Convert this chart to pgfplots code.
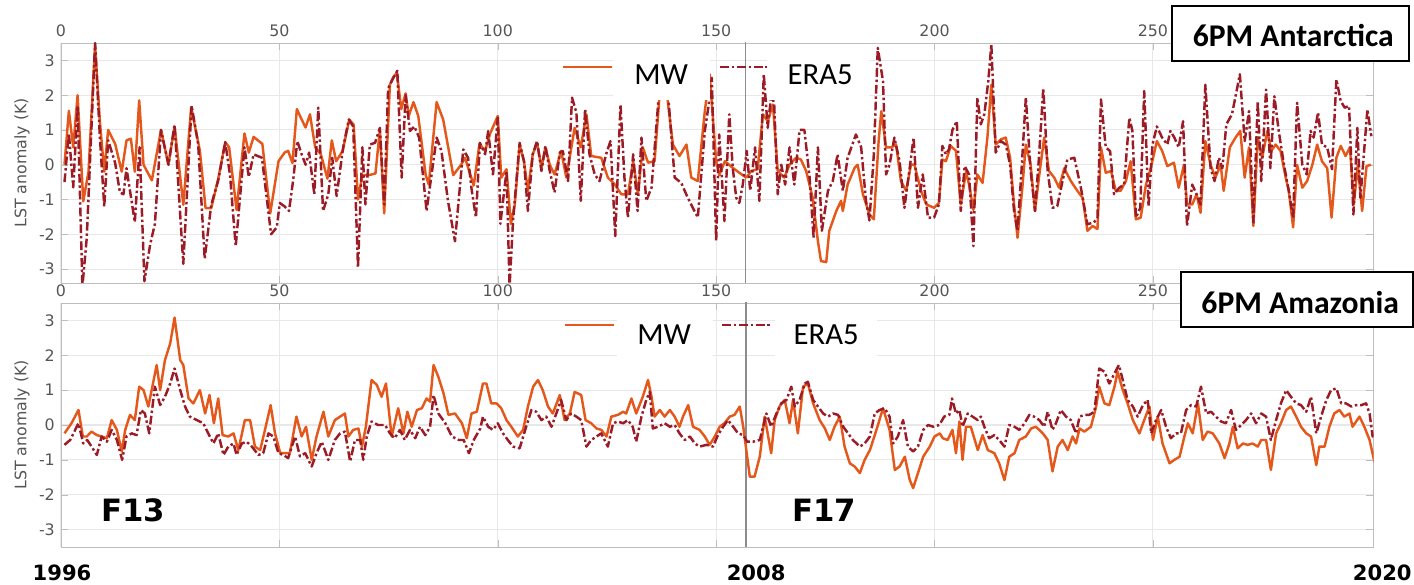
\documentclass[border=0pt]{standalone}
\usepackage{fontspec}
\setmainfont{DejaVu Sans}
\newfontfamily\carlito{Carlito}
\usepackage{pgfplots}
\pgfplotsset{compat=1.18}

\definecolor{mwc}{RGB}{228,88,28}
\definecolor{erac}{RGB}{155,27,38}
\definecolor{gridc}{RGB}{232,232,232}
\definecolor{framec}{RGB}{190,190,190}
\definecolor{tickc}{RGB}{85,85,85}

\tikzset{
  mw/.style={mwc, line width=1.4pt, line join=round},
  era/.style={erac, line width=1.4pt, line join=round,
    dash pattern=on 5pt off 1.6pt on 1.4pt off 1.6pt},
}
\pgfplotsset{
  panel/.style={
    scale only axis, width=26.25cm,
    xmin=0, xmax=300.5,
    xtick={0,50,...,250}, ytick={-3,-2,...,3},
    xticklabel pos=right,
    tick align=inside, major tick length=4pt,
    tick style={framec},
    axis line style={framec},
    grid=major, major grid style={gridc, line width=0.6pt},
    tick label style={font=\fontsize{9}{10}\selectfont, text=tickc},
    /pgf/number format/assume math mode=true,
    ylabel={LST anomaly (K)},
    ylabel style={font=\fontsize{9}{10}\selectfont, text=tickc,
      at={(axis description cs:-0.0297,0.5)}, anchor=center},
  },
}

\begin{document}
\begin{tikzpicture}
\useasboundingbox (0,0) rectangle (28.28cm,-11.7cm);

% ---- 6PM Antarctica ----
\begin{axis}[panel, at={(1.22cm,-0.86cm)}, anchor=north west,
    height=4.8cm, ymin=-3.4, ymax=3.5]
\addplot[black!45, line width=1pt, forget plot] coordinates {(156.7,-4) (156.7,4)};
\addplot[mw] coordinates {
(0.8,0.0) (1.8,1.55) (2.8,0.5) (3.8,2.0) (5.1,-1.05) (6.3,-0.2) (7.8,3.45) (8.9,1.25)
(9.9,-0.2) (10.8,1.0) (12.4,0.6) (13.9,-0.2) (15,0.7) (16,0.75) (16.9,-0.2) (17.9,1.85)
(18.9,0.0) (20.8,-0.45) (22.9,1.0) (24.6,0.0) (26,1.1) (28,-1.15) (29.8,1.65) (31.8,0.4)
(33.1,-1.25) (34.4,-1.25) (36,-0.4) (37.6,0.65) (38.5,0.5) (40.2,-1.3) (42,0.9) (43,0.35)
(44.1,0.8) (46.1,0.6) (47.9,-1.4) (49.8,0.1) (51.2,0.35) (52,0.4) (53,0.05) (54,1.6)
(55.1,1.3) (56,1.07) (57,1.45) (58.2,0.5) (59.5,0.3) (61,-0.4) (62,0.7) (63,0.1)
(64.5,0.4) (66,1.3) (67,1.15) (68,-1.0) (69,-0.3) (70.5,-0.3) (72,-0.25) (73,1.0)
(74,-1.4) (75.3,2.3) (76,2.5) (76.9,2.65) (77.9,1.6) (78.9,2.05) (79.6,1.4) (80.7,1.8)
(81.8,1.4) (83.5,-0.3) (84.2,-0.57) (86,1.8) (87.5,1.3) (89.8,-0.3) (91.6,0.0) (92.5,0.2)
(94.5,-0.6) (95.8,0.6) (97.1,0.4) (98.2,0.88) (100,1.4) (100.8,-0.37) (102,-0.13) (103,-1.7)
(103.9,-1.14) (105,0.58) (106,0.1) (106.9,-0.75) (108,0.3) (109,0.63) (110,-0.09) (110.9,0.5)
(111.9,0) (113,-0.28) (114.5,0.4) (115.7,-0.37) (117.6,1.06) (119,0.5) (120.3,1.45) (121.4,0.25)
(123.7,0.2) (125.2,-0.37) (126.8,-0.57) (128.3,-0.85) (129.8,-0.85) (131,0.1) (132.1,-0.85) (133.2,0.5)
(134.4,0.06) (135.9,0.1) (137,1.93) (138,3.0) (139,1.73) (140.1,0.58) (141.6,0.25) (143.2,0.58)
(144.3,-0.37) (145.8,-0.47) (147.4,1.54) (148.5,2.6) (150,0.1) (150.7,-0.3) (152,0.1) (153.8,-0.09)
(155.3,-0.23) (156.9,-0.37) (158,-0.18) (159.5,-0.13) (160.7,1.45) (161.8,1.25) (163,1.73) (164.1,-0.18)
(165.6,-0.37) (166.8,0.0) (168.3,0.2) (169.4,0.15) (170.6,-0.18) (172.1,-0.95) (173.3,-2.2) (174,-2.77)
(175.2,-2.8) (175.9,-1.9) (177.5,-1.33) (178.6,-1.04) (179,-1.33) (180.1,-0.57) (181.7,-0.09) (182.4,0.0)
(183.6,-0.85) (185.1,-1.43) (186.1,-1.57) (187.2,0.68) (187.8,1.54) (188.9,0.5) (190.1,0.5) (191.2,0.58)
(192.3,-0.47) (193.5,-0.75) (194.6,0.0) (195.4,0.0) (196.9,-0.75) (198.1,-1.14) (199.9,-1.24) (201,-1.1)
(201.8,0.15) (202.6,0.1) (203.7,0.54) (204.9,0.4) (206,-1.14) (207.2,-0.2) (207.9,-0.57) (208.9,-1.3)
(209.8,-0.28) (211,-0.52) (212.1,0.78) (213,2.3) (214,0.58) (215.2,0.73) (216.3,0.78) (217.3,0.2)
(218.2,-1.14) (219,-2.1) (220.1,-0.66) (220.9,0.58) (222,0.0) (223,-1.33) (223.9,-0.37) (225.1,0.78)
(226.2,-0.18) (227.4,-0.37) (228.5,-0.66) (229.7,-0.1) (231.2,-0.47) (232.7,-0.75) (233.9,-0.95) (235,-1.9)
(236.2,-1.76) (237.3,-1.85) (238.1,0.5) (239.2,-0.23) (240.4,-0.18) (241.5,-0.75) (242.6,-0.75) (243.8,-0.47)
(244.9,0.1) (246.1,-1.57) (247.2,-1.52) (248.4,-0.57) (249.5,-0.1) (250.9,0.68) (252.1,0.4) (253.3,-0.04)
(254.8,0.06) (255.9,-0.66) (257.1,0.0) (257.8,-1.14) (259,-1.14) (260,-0.85) (260.9,-1.38) (262,0.68)
(263.2,0.0) (264.3,-0.37) (265.5,0.0) (266.2,-0.75) (267.6,0.5) (268.9,0.78) (270,0.97) (271,-0.37)
(272,0.5) (273,-1.76) (274,0.78) (275,0.2) (276.2,0.97) (277.1,0.4) (278.1,0.58) (279.2,0.4)
(280.4,-0.37) (281.1,-0.75) (282.1,-1.8) (283,0.0) (284.2,-0.66) (285.3,-0.47) (286.5,0.0) (287.6,0.58)
(288.7,0.1) (289.9,-0.1) (290.9,-1.52) (292,0.2) (293,0.54) (294.1,0.25) (295.1,0.5) (296,-1.14)
(296.9,0.0) (297.9,-1.33) (298.9,-0.04) (299.9,0.0)
};
\addplot[era] coordinates {
(0.8,-0.5) (1.8,0.9) (2.8,-0.65) (3.8,1.7) (4.9,-3.5) (5.9,-2.1) (7.8,3.5) (8.9,0.8)
(9.9,-1.2) (10.8,0.7) (12.4,0.05) (13.5,-0.8) (14.3,-0.85) (15,-0.1) (16.9,-1.65) (18,0.5)
(19.1,-3.35) (20.4,-2.3) (21.5,-1.7) (22.9,1.0) (24.6,0.0) (26,1.15) (28,-2.85) (29.9,1.7)
(31.4,0.6) (32.9,-2.7) (34.4,-1.15) (36,-0.45) (37.6,0.65) (38.7,-0.3) (40,-2.35) (42,0.5)
(43,-0.35) (44.1,0.3) (46,0.2) (48.1,-2.0) (49.4,-1.8) (50.1,-1.1) (51.2,-1.2) (52.2,-1.33)
(53.2,-0.4) (54.1,0.68) (55.1,0.3) (56,0.0) (56.8,0.35) (58,-0.85) (58.9,1.64) (60,-1.33)
(61.2,-0.85) (62.1,0.2) (63.1,-0.9) (64.6,0.5) (65.9,1.3) (66.9,1.1) (68,-2.96) (69,0.5)
(69.7,-1.14) (70.7,0.58) (71.9,0.63) (73,1.06) (74,-1.14) (74.9,2.2) (76.1,2.5) (77,2.7)
(78,-0.37) (78.9,2.0) (79.9,0.97) (80.9,1.1) (82,0.78) (83.7,-1.33) (86,0.78) (87.1,0.4)
(88.6,-1.04) (90.2,-2.2) (92.1,0.44) (93.2,0.2) (94,-0.7) (95,-1.52) (95.9,0.63) (97.1,0.3)
(97.8,0.97) (98.9,-0.28) (100,1.35) (100.6,-1.7) (102,-0.18) (102.7,-3.5) (103.5,-1.6) (105,0.63)
(106,0.1) (106.9,-1.33) (108,0.3) (109,0.68) (110,-0.18) (110.9,0.54) (111.9,-0.18) (113,-0.8)
(114.2,0.35) (114.9,0.39) (116.1,-0.47) (117,1.93) (118,1.5) (119,-1.04) (120,1.6) (121,0.3)
(122.2,-0.28) (123.3,-0.47) (124.8,0.3) (125.8,0.68) (126.9,-2.05) (128.1,1.73) (129,-0.37) (129.8,-1.52)
(131,0.3) (132,-1.33) (132.9,0.78) (134,-1.04) (135.2,-0.66) (136.7,1.73) (137.5,3.2) (139,2.0)
(140.5,-0.37) (142,-0.52) (143.5,-0.95) (145.8,-1.52) (147.4,0.97) (148.3,1.73) (149,2.5) (150,-2.2)
(150.7,0.87) (151.9,-1.62) (153,1.45) (153.8,-0.1) (154.6,-0.95) (155.3,-1.1) (156.1,-0.57) (157,0.4)
(157.8,-0.75) (158.9,0.5) (159.9,-1.04) (160.9,2.6) (161.8,1.06) (162.7,2.1) (163.3,1.7) (164.1,-0.85)
(164.9,0) (165.8,-0.57) (166.8,0.5) (167.9,-0.57) (169.1,1.0) (170.2,1.0) (171.4,-0.37) (172.3,-2.1)
(173.3,0.5) (174.2,-1.9) (175.6,-0.75) (176.7,-0.47) (177.8,0.3) (179,-0.75) (180.1,0.2) (182,0.87)
(183.2,0.5) (184.3,-1.04) (185.1,-1.6) (186.1,0.3) (187,3.36) (188.2,2.4) (188.9,-0.28) (189.7,0)
(190.8,0.78) (192,0.1) (193.1,-1.24) (194.3,-0.1) (195.2,0.78) (196.2,-1.24) (197.3,-0.28) (198.5,-1.52)
(199.9,-1.52) (201,-1.14) (201.8,0.54) (202.6,0.3) (203.3,0.44) (204.1,1.0) (205.1,1.25) (206,-1.33)
(206.9,-0.04) (207.9,-0.28) (208.9,-2.34) (209.8,1.93) (210.6,1.16) (211.4,1.45) (212.3,2.4) (213,3.46)
(214,0.35) (215.2,0.68) (216.3,0.58) (217.3,0.0) (218.2,-1.33) (219,-1.9) (219.9,-0.18) (220.9,1.93)
(222,-0.18) (223,-1.33) (223.9,0.2) (224.9,2.2) (225.9,-0.18) (227,-1.24) (228.1,-1.19) (229.3,-0.47)
(230.4,0.15) (232,0.2) (233.5,-0.66) (235,-1.71) (236.5,-1.66) (237.3,-1.52) (238.1,1.88) (239.2,0.5)
(240.2,0.39) (241.1,-0.85) (242.3,-0.66) (243.4,-0.57) (244.6,1.35) (245.3,0.97) (246.1,-1.52) (247.1,-1.24)
(248,2.12) (249,-1.19) (249.9,0.58) (250.9,1.1) (252.1,0.78) (253.3,0.58) (254,0.97) (254.9,0.78)
(255.9,0.5) (256.9,1.25) (257.8,-1.76) (259,-0.57) (260,-0.85) (260.9,-1.14) (262,2.3) (263.2,-0.1)
(264.1,-0.47) (265.1,0.2) (265.9,-0.1) (266.8,1.16) (268.1,1.45) (269.9,2.6) (271,0.68) (272,1.54)
(273,-1.66) (274,1.83) (274.8,-0.47) (275.9,2.16) (276.9,-0.1) (277.8,1.97) (278.8,0.97) (280,0.0)
(281.1,-0.75) (282.1,-1.52) (283,1.78) (284.2,0.0) (285.2,-0.28) (286.1,0.97) (286.8,0.78) (287.8,1.5)
(288.7,0.58) (289.9,0.5) (291,-0.13) (292,2.45) (293,1.83) (293.9,1.64) (294.9,1.69) (295.9,-1.43)
(296.8,1.06) (297.5,-0.95) (298.1,0.0) (299.1,1.59) (300,0.82)
};
\end{axis}

% ---- 6PM Amazonia ----
\begin{axis}[panel, at={(1.22cm,-6.06cm)}, anchor=north west,
    height=4.88cm, ymin=-3.5, ymax=3.5]
\addplot[black!45, line width=1pt, forget plot] coordinates {(156.9,-4) (156.9,4)};
\addplot[mw] coordinates {
(0.8,-0.24) (2.4,0.05) (4,0.43) (5,-0.33) (5.9,-0.33) (7,-0.19) (8.2,-0.29) (9.3,-0.33)
(10.5,-0.38) (11.6,0.14) (12.8,-0.14) (13.9,-0.76) (14.7,-0.14) (15.8,0.29) (16.9,0.14) (17.9,1.1)
(18.9,1.0) (20,0.53) (21.9,1.72) (22.7,1.0) (23.8,1.86) (25,2.34) (26,3.08) (27.3,1.86)
(28,1.72) (29.2,0.76) (30.3,0.62) (31.8,1.0) (33,0.33) (34,0.86) (35,0.05) (36,0.76)
(37,-0.29) (38.3,-0.33) (39.5,-0.24) (40.6,-0.72) (42.1,0.14) (43.3,0.14) (44.4,-0.62) (45.6,-0.72)
(46.7,-0.14) (48,0.57) (49,-0.24) (50.2,-0.81) (51.3,-0.81) (52.4,-0.81) (53.9,0.24) (55.1,-0.33)
(56.1,-0.05) (57.4,-1.0) (58.5,-0.33) (60.1,0.38) (61.2,-0.33) (62.7,0.14) (63.9,0.24) (65,0.33)
(65.8,-0.33) (66.9,-0.14) (68.1,-0.1) (68.9,-0.62) (69.8,-0.05) (71.1,1.29) (72.3,1.15) (73.4,0.81)
(74.4,1.19) (75.7,-0.33) (77.2,0.48) (78.4,-0.24) (79.3,0.38) (80.3,-0.05) (81.5,0.43) (82.6,0.48)
(83.7,0.76) (84.5,0.67) (85.3,1.72) (86.4,1.38) (87.6,0.9) (88.7,0.29) (90.2,0.33) (91.8,0.05)
(92.9,-0.38) (94,0.33) (95.2,0.38) (96.6,1.19) (97.4,1.19) (98.5,0.62) (99.7,0.62) (100.8,0.48)
(102,0.14) (103.1,-0.05) (104.6,-0.33) (105.8,-0.14) (106.9,0.53) (108.1,1.1) (109.2,1.29) (110.3,1.0)
(111.5,0.53) (112.6,0.33) (114.2,0.86) (115.3,0.14) (116.5,0.33) (117.6,0.95) (119.1,0.86) (120.1,0.14)
(121.4,0.05) (122.6,-0.1) (123.7,-0.14) (124.9,-0.33) (126,0.24) (127.5,0.29) (128.7,0.38) (129.4,0.33)
(130.6,0.76) (131.7,0.33) (133.2,0.81) (134.4,1.29) (135.2,0.81) (135.9,0.24) (137.1,0.43) (138.2,0.24)
(139.4,0.43) (140.5,0.24) (141.6,-0.05) (142.4,0.24) (143.6,0.57) (144.7,-0.05) (146.2,-0.14) (147.4,-0.33)
(148.5,-0.57) (149.7,-0.33) (150.8,-0.05) (151.9,0.05) (153.1,0.24) (154.2,0.29) (155.4,0.53) (156.2,-0.05)
(157.7,-1.48) (158.8,-1.48) (160,-0.9) (161.1,0.24) (162.6,-0.81) (163.4,0.14) (164.5,0.53) (165.7,0.72)
(166.8,0.05) (167.6,0.72) (168.7,-0.24) (169.9,1.1) (171,1.19) (172.2,0.62) (173.7,0.14) (174.9,-0.1)
(176,-0.43) (177.1,-0.05) (178.3,0.24) (179.4,-0.62) (180.6,-1.1) (181.7,-1.19) (182.9,-1.38) (184,-1.0)
(185.2,-0.72) (186.7,-0.14) (188.2,0.48) (189.7,-0.14) (190.9,-1.29) (192,-1.19) (193.2,-0.91) (194.3,-1.57)
(195.1,-1.81) (196.2,-1.38) (197.4,-0.91) (198.9,-0.62) (200,-0.33) (201.2,-0.24) (201.9,-0.38) (203,-0.43)
(204.1,-0.14) (204.9,-0.81) (205.7,0.1) (206.4,-1.0) (207.2,-0.05) (208.3,-0.05) (209.9,-0.72) (211,-0.29)
(212.2,-0.72) (213.7,-0.81) (214.8,-1.1) (216,-1.58) (217.1,-0.91) (218.3,-0.81) (219.4,-0.43) (220.9,-0.33)
(222.1,-0.1) (223.2,-0.05) (224.8,-0.24) (225.9,-0.43) (227,-1.33) (228.2,-0.62) (229.3,-0.43) (230.5,-0.72)
(231.6,-0.33) (232.4,-0.53) (233.2,-0.1) (234.3,-0.19) (235.8,-0.05) (237,0.53) (237.7,1.1) (238.9,0.62)
(240,0.57) (241.2,1.1) (241.9,1.53) (243.1,1.0) (244.2,0.62) (245.4,0.14) (246.9,-0.24) (248,0.14)
(249.2,0.53) (250,-0.43) (251.1,0.24) (252.2,-0.53) (253.8,-1.1) (254.9,-1.0) (256.1,-0.91) (257.2,-0.33)
(258,0.05) (259.1,-0.24) (260.3,0.62) (261.4,-0.43) (262.5,-0.19) (263.7,-0.24) (265.2,-0.53) (266.4,-0.95)
(267.5,-0.53) (268.3,-0.05) (269.4,-0.67) (270.6,-0.53) (271.7,-0.57) (272.8,-0.53) (274,-0.62) (274.8,-0.43)
(275.9,-0.43) (277,-1.29) (278.2,-0.24) (279.3,0.05) (280.5,0.43) (281.6,0.53) (282.8,0.24) (283.9,-0.05)
(285.1,-0.24) (286.2,-0.33) (287.4,-1.15) (288.1,-0.62) (289.3,-0.62) (290.4,-0.05) (291.5,0.33) (292.7,0.43)
(293.8,0.24) (295,0.33) (295.7,-0.05) (297.3,0.24) (298.4,-0.05) (299.6,-0.43) (300.7,-1.05) (301.5,-1.0)
};
\addplot[era] coordinates {
(0.8,-0.57) (2.1,-0.43) (4,0.05) (5.1,-0.53) (6,-0.43) (7,-0.62) (8.2,-0.86) (9.3,-0.33)
(10.5,-0.48) (11.6,-0.14) (12.8,-0.43) (14,-1.0) (15,-0.33) (16.2,-0.24) (17.3,-0.29) (18.3,0.43)
(19.2,0.33) (20.2,-0.24) (21.5,1.1) (22.7,0.57) (23.8,0.81) (25,1.19) (26,1.62) (27.3,1.0)
(28.4,0.53) (29.5,0.24) (31.1,0.14) (32.6,0.05) (33.7,-0.24) (34.9,-0.53) (36,-0.24) (37.2,-0.86)
(38.3,-0.62) (39.5,-0.53) (40.2,-0.86) (41.4,-0.53) (42.5,-0.48) (43.7,-0.62) (45.2,-0.86) (46.3,-0.81)
(47.5,-0.24) (48.6,-0.33) (49.8,-0.81) (50.9,-0.86) (52,-0.95) (53.6,-0.33) (54.7,-0.9) (55.9,-0.81)
(57.4,-1.19) (58.5,-0.81) (59.7,-0.48) (61.2,-1.0) (62.7,-0.43) (63.9,-0.24) (65,-0.19) (66.2,-1.05)
(67.3,-0.43) (68.5,-0.43) (69.2,-1.0) (70,-0.33) (71.1,0.1) (72.6,0) (74.2,0) (75.3,-0.24)
(76.4,-0.38) (77.6,-0.14) (78.7,-0.43) (79.9,-0.14) (81.1,-0.38) (82.2,-0.05) (83.4,-0.29) (84.5,-0.05)
(85.3,0.86) (86.4,0.33) (88,0.05) (89.5,-0.33) (91.1,-0.43) (92.2,-0.43) (93.4,-0.81) (94.5,-0.43)
(96,-0.1) (96.6,0.24) (97.8,-0.05) (98.9,-0.14) (100,0.05) (101.2,-0.24) (102.3,-0.43) (103.5,-0.62)
(105,-0.67) (106.5,-0.05) (107.7,0.43) (108.8,0.38) (110,0.14) (111.1,0.24) (112.3,-0.05) (113.4,0.33)
(114.5,0.72) (115.7,0.14) (116.8,0.33) (118,0.24) (119.1,0.14) (120.3,-0.62) (121.4,-0.43) (122.6,-0.33)
(123.7,-0.24) (125.2,-0.62) (126.4,0.05) (127.5,0.1) (128.7,0.05) (129.8,0.14) (130.9,-0.05) (131.7,-0.48)
(132.9,0.24) (134,0.72) (134.8,0.95) (135.5,-0.1) (136.7,-0.05) (138.2,0.05) (139.4,-0.05) (140.5,0)
(141.6,-0.24) (142.8,-0.43) (144,-0.33) (145.1,-0.53) (146.2,-0.62) (147.8,-0.57) (149.3,-0.62) (150.4,-0.29)
(151.6,-0.05) (152.7,0.14) (153.9,-0.05) (155,-0.24) (156.2,-0.29) (157.1,-0.48) (158.4,-0.48) (160,-0.43)
(161.5,0.33) (162.6,-0.05) (163.8,0.33) (164.9,0.62) (166.1,0.72) (167.2,1.1) (168,0.53) (169.1,0.72)
(170.3,1.19) (171,1.24) (172.2,0.72) (173.3,0.53) (174.5,0.33) (175.6,0.24) (176.8,0.33) (177.9,0.29)
(179.1,-0.05) (180.2,-0.24) (181.3,-0.43) (182.9,-0.62) (184,-0.53) (185.2,-0.33) (186.3,0.33) (187.4,0.43)
(188.6,0.48) (189.7,0.24) (190.5,-0.53) (191.6,-0.33) (192.8,0.14) (193.9,-0.62) (195.1,-0.76) (196.2,-0.62)
(197.4,-0.14) (198.5,0) (199.7,-0.05) (201.1,0) (202.2,0.24) (203.4,0.29) (204,0.76) (204.9,0.33)
(205.7,0.43) (206.4,-0.05) (207.6,0.33) (208.7,0.24) (209.9,0.14) (210.6,0.24) (211.4,-0.05) (212.5,-0.38)
(213.7,-0.29) (214.8,-0.43) (216,-0.62) (217.1,0) (218.3,-0.05) (219.4,-0.14) (220.6,0.05) (221.7,0.29)
(222.8,0.24) (224,0.14) (225.1,-0.05) (225.9,0.38) (227,-0.14) (227.8,0.05) (228.9,0.43) (230.1,0.24)
(231.2,0.14) (232.4,-0.24) (233.2,0.24) (234.3,0.29) (235.4,0.29) (236.6,0.38) (237.7,1.62) (238.9,1.53)
(240,1.19) (241.2,1.48) (242.2,1.72) (243.1,1.29) (244.2,0.72) (245.4,0.53) (246.5,0.24) (247.7,0.57)
(248.8,0.72) (249.6,-0.24) (250.7,0.14) (251.9,0.43) (253,-0.05) (254.1,-0.38) (255.3,-0.24) (256.4,-0.24)
(257.6,0.43) (258.7,0.57) (259.9,0.53) (261,1.1) (262.2,0.33) (263.3,0.38) (264.4,0.24) (265.6,0.1)
(266.7,0.05) (267.9,0.43) (269,-0.14) (270.2,0) (271.3,0.14) (272.5,0.33) (273.6,0.05) (274.8,0.33)
(275.9,0.24) (277,-0.43) (278.2,0.14) (279.3,0.62) (280.5,1.0) (281.6,0.81) (282.8,0.62) (283.9,0.57)
(285.1,0.38) (286.2,0.81) (287.4,-0.24) (288.5,0.24) (289.7,0.72) (290.8,1.0) (292,1.05) (293.1,0.62)
(294.2,0.62) (295.4,0.53) (296.5,0.57) (297.7,0.57) (298.8,0.62) (299.6,0.33) (300.3,-0.33) (301.5,-0.14)
};
\end{axis}

% ---- annotations, in pixel units of the reference ----
\begin{scope}[x=0.02cm, y=-0.02cm]
  \tikzset{lg/.style={font=\carlito\fontsize{17.5}{20}\selectfont, inner sep=0pt}}
  % legend, top panel
  \draw[mw] (563,67) -- (612,67);
  \fill[white] (613,45) rectangle (710,100);
  \node[lg] at (661,75) {MW};
  \draw[era] (720,67) -- (767,67);
  \fill[white] (767,45) rectangle (869,100);
  \node[lg] at (820,75) {ERA5};
  % legend, bottom panel
  \draw[mw] (565,325) -- (614,325);
  \fill[white] (617,308) rectangle (713,360);
  \node[lg] at (664,335) {MW};
  \draw[era] (722,325) -- (772,325);
  \fill[white] (775,308) rectangle (877,360);
  \node[lg] at (826,335) {ERA5};
  % panel titles
  \draw[line width=1.3pt, fill=white] (1172,6) rectangle (1408.5,61);
  \node[font=\carlito\bfseries\fontsize{18}{20}\selectfont, inner sep=0pt] at (1293,35) {6PM Antarctica};
  \draw[line width=1.3pt, fill=white] (1181,272) rectangle (1413,327);
  \node[font=\carlito\bfseries\fontsize{18}{20}\selectfont, inner sep=0pt] at (1300,302) {6PM Amazonia};
  % satellite and year labels
  \node[font=\bfseries\fontsize{17.5}{20}\selectfont, inner sep=0pt] at (133,510) {F13};
  \node[font=\bfseries\fontsize{17.5}{20}\selectfont, inner sep=0pt] at (824,510) {F17};
  \node[font=\bfseries\fontsize{12}{14}\selectfont, inner sep=0pt] at (62,573) {1996};
  \node[font=\bfseries\fontsize{12}{14}\selectfont, inner sep=0pt] at (756,573) {2008};
  \node[font=\bfseries\fontsize{12}{14}\selectfont, inner sep=0pt] at (1382,573) {2020};
\end{scope}
\end{tikzpicture}
\end{document}
